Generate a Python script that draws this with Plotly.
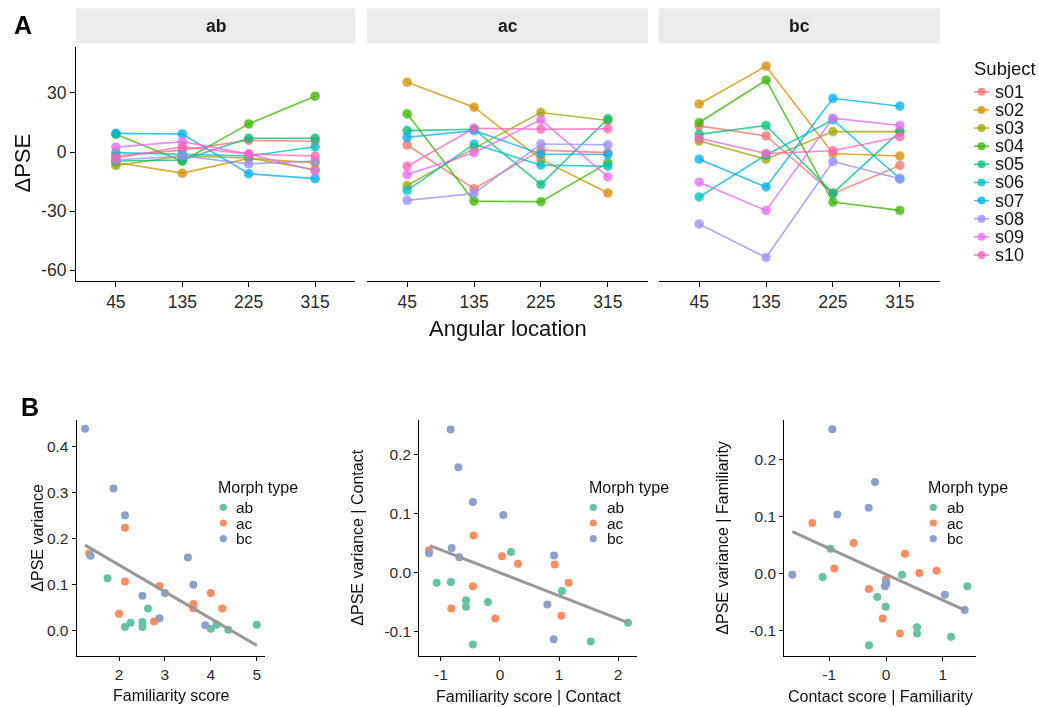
import plotly.graph_objects as go

# ---------------- data ----------------
angles = ["45", "135", "225", "315"]
subjects = ["s01", "s02", "s03", "s04", "s05", "s06", "s07", "s08", "s09", "s10"]
subject_colors = ["#F8766D", "#D89000", "#A3A500", "#39B600", "#00BF7D",
                  "#00BFC4", "#00B0F6", "#9590FF", "#E76BF3", "#FF62BC"]

# dPSE per subject at the four angular locations (45, 135, 225, 315)
dpse_ab = [
    [-2.0, 1.0, 6.0, 5.5],
    [-5.3, -10.7, -3.2, -5.5],
    [-6.8, -2.0, -3.0, -9.0],
    [9.0, -4.6, 14.3, 28.4],
    [-4.5, -4.0, 7.0, 7.0],
    [-0.3, -1.0, -2.0, 2.7],
    [9.5, 9.2, -11.0, -13.5],
    [-4.0, -2.0, -6.0, -4.5],
    [2.5, 5.3, -1.0, -9.5],
    [-3.0, 2.7, -1.0, -2.0],
]
dpse_ac = [
    [3.6, -18.6, 1.0, -0.3],
    [35.4, 22.8, -3.7, -20.8],
    [-17.0, 1.9, 20.1, 16.0],
    [19.4, -24.9, -25.2, -5.5],
    [10.9, 11.6, -16.4, 16.9],
    [-19.4, 4.0, -6.6, -7.2],
    [7.5, 10.9, -1.0, -1.2],
    [-24.5, -21.0, 4.1, 3.7],
    [-11.4, -0.3, 16.4, -12.6],
    [-7.2, 12.1, 11.6, 11.8],
]
dpse_bc = [
    [13.3, 8.2, -21.1, -6.8],
    [24.4, 43.6, -0.7, -2.0],
    [5.6, -3.6, 10.4, 10.4],
    [15.0, 36.5, -25.4, -29.6],
    [9.0, 13.5, -20.8, 10.4],
    [-22.8, -1.5, 16.4, -13.5],
    [-3.6, -17.7, 27.3, 23.3],
    [-36.5, -53.5, -4.8, -13.5],
    [-15.3, -29.6, 17.2, 13.5],
    [7.0, -0.7, 0.7, 7.8],
]
facet_names = ["ab", "ac", "bc"]
a_ytick_vals = [-60, -30, 0, 30]
a_ytick_text = ["-60", "-30", "0", "30"]

morph_types = ["ab", "ac", "bc"]
morph_colors = ["#66C2A5", "#FC8D62", "#8DA0CB"]

# B1: Familiarity score vs dPSE variance
fam_x_ab = [1.75, 2.13, 2.25, 2.51, 2.51, 2.63, 4.0, 4.13, 4.38, 5.0]
fam_y_ab = [0.113, 0.007, 0.016, 0.018, 0.007, 0.047, 0.003, 0.012, 0.001, 0.012]
fam_x_ac = [2.13, 2.13, 1.35, 2.0, 2.88, 2.76, 3.62, 3.62, 4.0, 4.25]
fam_y_ac = [0.223, 0.106, 0.167, 0.036, 0.096, 0.019, 0.057, 0.048, 0.081, 0.047]
fam_x_bc = [1.26, 1.88, 2.13, 1.38, 2.51, 3.0, 3.50, 3.62, 2.88, 3.88]
fam_y_bc = [0.438, 0.308, 0.250, 0.162, 0.075, 0.081, 0.158, 0.099, 0.026, 0.011]
fit_fam_x = [1.26, 5.0]
fit_fam_y = [0.185, -0.033]

# B2: Familiarity | Contact vs dPSE variance | Contact
fc_x_ab = [0.186, -1.073, -0.831, -0.576, -0.576, -0.203, -0.458, 1.051, 1.537, 2.169]
fc_y_ab = [0.035, -0.017, -0.016, -0.047, -0.058, -0.050, -0.122, -0.031, -0.117, -0.085]
fc_x_ac = [-0.446, -1.203, 0.034, 0.305, -0.458, -0.825, -0.079, 0.927, 1.164, 1.040]
fc_y_ac = [0.063, 0.038, 0.028, 0.015, -0.023, -0.061, -0.078, 0.014, -0.017, -0.073]
fc_x_bc = [-0.836, -0.706, -0.458, 0.056, -0.819, -0.689, -1.203, 0.915, 0.802, 0.910]
fc_y_bc = [0.243, 0.179, 0.120, 0.098, 0.042, 0.026, 0.033, 0.029, -0.054, -0.113]
fit_fc_x = [-1.186, 2.169]
fit_fc_y = [0.046, -0.085]

# B3: Contact | Familiarity vs dPSE variance | Familiarity
cf_x_ab = [-0.974, -1.114, 0.282, -0.153, -0.006, 0.545, 0.545, 1.144, -0.299, 1.431]
cf_y_ab = [0.044, -0.006, -0.002, -0.041, -0.058, -0.094, -0.105, -0.111, -0.126, -0.022]
cf_x_ac = [-1.296, -0.569, 0.334, -0.909, 0.587, 0.891, 0.0, -0.299, -0.059, 0.246]
cf_y_ac = [0.089, 0.054, 0.035, 0.009, 0.001, 0.005, -0.010, -0.027, -0.079, -0.105]
cf_x_bc = [-0.944, -0.194, -0.305, -0.856, -1.648, 0.0, -0.018, 1.038, 1.384, 0.005]
cf_y_bc = [0.254, 0.161, 0.116, 0.104, -0.002, -0.014, -0.022, -0.037, -0.064, -0.018]
fit_cf_x = [-1.648, 1.384]
fit_cf_y = [0.074, -0.064]

# tick labels for panel B (hyphen-minus as in the original)
b1_xticks = [2, 3, 4, 5]
b1_yticks = [0.0, 0.1, 0.2, 0.3, 0.4]
b1_ytext = ["0.0", "0.1", "0.2", "0.3", "0.4"]
b2_xticks = [-1, 0, 1, 2]
b2_xtext = ["-1", "0", "1", "2"]
b2_yticks = [-0.1, 0.0, 0.1, 0.2]
b2_ytext = ["-0.1", "0.0", "0.1", "0.2"]
b3_xticks = [-1, 0, 1]
b3_xtext = ["-1", "0", "1"]
b3_yticks = [-0.1, 0.0, 0.1, 0.2]
b3_ytext = ["-0.1", "0.0", "0.1", "0.2"]

# ---------------- layout helpers ----------------
W, H = 1039, 707
FONT = "Liberation Sans, Arial, Helvetica, sans-serif"
TICK_COL = "#2b2b2b"
TITLE_COL = "#111111"
ALPHA = 0.78


def fx(p):
    return p / W


def fy(p):
    return 1 - p / H


fig = go.Figure()

# ---------------- panel A ----------------
a_axes = [("x", "y"), ("x2", "y2"), ("x3", "y3")]
a_data = [dpse_ab, dpse_ac, dpse_bc]
for (xa, ya), data in zip(a_axes, a_data):
    for s, col, vals in zip(subjects, subject_colors, data):
        fig.add_trace(go.Scatter(x=angles, y=vals, mode="lines", xaxis=xa, yaxis=ya,
                                 line=dict(color=col, width=1.6), opacity=ALPHA,
                                 showlegend=False, name=s, hoverinfo="skip"))
    for s, col, vals in zip(subjects, subject_colors, data):
        fig.add_trace(go.Scatter(x=angles, y=vals, mode="markers", xaxis=xa, yaxis=ya,
                                 marker=dict(color=col, size=9.5, line=dict(width=0)),
                                 opacity=ALPHA, showlegend=False, name=s))

# ---------------- panel B ----------------
b_sets = [
    ("x4", "y4", [(fam_x_ab, fam_y_ab), (fam_x_ac, fam_y_ac), (fam_x_bc, fam_y_bc)], (fit_fam_x, fit_fam_y)),
    ("x5", "y5", [(fc_x_ab, fc_y_ab), (fc_x_ac, fc_y_ac), (fc_x_bc, fc_y_bc)], (fit_fc_x, fit_fc_y)),
    ("x6", "y6", [(cf_x_ab, cf_y_ab), (cf_x_ac, cf_y_ac), (cf_x_bc, cf_y_bc)], (fit_cf_x, fit_cf_y)),
]
for xa, ya, groups, fit in b_sets:
    for m, col, (gx, gy) in zip(morph_types, morph_colors, groups):
        fig.add_trace(go.Scatter(x=gx, y=gy, mode="markers", xaxis=xa, yaxis=ya,
                                 marker=dict(color=col, size=8, line=dict(width=0)),
                                 showlegend=False, name=m))
    fig.add_trace(go.Scatter(x=fit[0], y=fit[1], mode="lines", xaxis=xa, yaxis=ya,
                             line=dict(color="#999999", width=3), showlegend=False,
                             hoverinfo="skip"))

# ---------------- axes ----------------
axis_base = dict(showgrid=False, zeroline=False, showline=True, linecolor="black",
                 linewidth=1.2, ticks="outside", ticklen=5, tickwidth=1.2,
                 tickcolor="black", tickfont=dict(family=FONT, size=17.5, color=TICK_COL))

A_YR = [-65.2, 53.6]
a_dom_y = [fy(280.5), fy(46.5)]
a_dom_x = [[76, 355], [367, 648], [659, 940]]
layout_axes = {}
for i, (x0, x1) in enumerate(a_dom_x):
    sfx = "" if i == 0 else str(i + 1)
    layout_axes["xaxis" + sfx] = dict(axis_base, domain=[fx(x0), fx(x1)], type="category",
                                      categoryorder="array", categoryarray=angles,
                                      range=[-0.6, 3.6], anchor="y" + sfx)
    if i == 0:
        layout_axes["yaxis"] = dict(axis_base, domain=a_dom_y, range=A_YR,
                                    tickvals=a_ytick_vals, ticktext=a_ytick_text, anchor="x")
    else:
        layout_axes["yaxis" + sfx] = dict(domain=a_dom_y, range=A_YR, showgrid=False,
                                          zeroline=False, showline=False,
                                          showticklabels=False, ticks="", anchor="x" + sfx)

b_tick = dict(family=FONT, size=15.5, color=TICK_COL)
b_specs = [
    ([76.7, 265], [1.078, 5.18], b1_xticks, [str(v) for v in b1_xticks],
     [-0.056, 0.458], b1_yticks, b1_ytext),
    ([419.3, 636.7], [-1.367, 2.316], b2_xticks, b2_xtext,
     [-0.1415, 0.260], b2_yticks, b2_ytext),
    ([784.3, 975.7], [-1.789, 1.578], b3_xticks, b3_xtext,
     [-0.1447, 0.271], b3_yticks, b3_ytext),
]
for k, (dx, xr, xt, xtt, yr, yt, ytt) in enumerate(b_specs):
    n = str(k + 4)
    layout_axes["xaxis" + n] = dict(axis_base, domain=[fx(dx[0]), fx(dx[1])], range=xr,
                                    tickvals=xt, ticktext=xtt, anchor="y" + n,
                                    tickfont=b_tick, ticklen=4)
    layout_axes["yaxis" + n] = dict(axis_base, domain=[fy(656), fy(419.5)], range=yr,
                                    tickvals=yt, ticktext=ytt, anchor="x" + n,
                                    tickfont=b_tick, ticklen=4)

# ---------------- annotations & shapes ----------------
ann = []
shapes = []


def text(x, y, s, size, **kw):
    d = dict(x=fx(x), y=fy(y), xref="paper", yref="paper", text=s, showarrow=False,
             font=dict(family=FONT, size=size, color=kw.pop("color", TITLE_COL)),
             xanchor=kw.pop("xanchor", "center"), yanchor=kw.pop("yanchor", "middle"))
    d.update(kw)
    ann.append(d)


# panel labels
text(22.5, 25, "<b>A</b>", 25, color="black")
text(29.5, 406.5, "<b>B</b>", 25, color="black")

# facet strips
for name, (x0, x1) in zip(facet_names, a_dom_x):
    shapes.append(dict(type="rect", xref="paper", yref="paper", x0=fx(x0), x1=fx(x1),
                       y0=fy(43.3), y1=fy(8.3), fillcolor="#EBEBEB", line=dict(width=0),
                       layer="below"))
    text((x0 + x1) / 2, 26, "<b>%s</b>" % name, 17.5, color="#1a1a1a")

# axis titles A
text(22.5, 163, "ΔPSE", 22, textangle=-90)
text(508, 328, "Angular location", 22)

# axis titles B
text(36.7, 538, "ΔPSE variance", 16, textangle=-90)
text(171, 695, "Familiarity score", 16)
text(356.7, 538, "ΔPSE variance | Contact", 16, textangle=-90)
text(528, 696, "Familiarity score | Contact", 16)
text(721.7, 538, "ΔPSE variance | Familiarity", 16, textangle=-90)
text(880, 696, "Contact score | Familiarity", 16)

# Subject legend (A)
text(972, 68.5, "Subject", 18.5, xanchor="left")
for i, (s, col) in enumerate(zip(subjects, subject_colors)):
    yy = 91.8 + i * 18.13
    shapes.append(dict(type="line", xref="paper", yref="paper", x0=fx(974), x1=fx(989),
                       y0=fy(yy), y1=fy(yy), line=dict(color=col, width=1.6), opacity=ALPHA))
    r = 4.0
    shapes.append(dict(type="circle", xref="paper", yref="paper", x0=fx(981.5 - r),
                       x1=fx(981.5 + r), y0=fy(yy + r), y1=fy(yy - r), fillcolor=col,
                       line=dict(width=0), opacity=ALPHA))
    text(993, yy, s, 18, xanchor="left", color=TITLE_COL)

# Morph type legends (B)
for title_x, mark_x, text_x in [(216, 223.3, 234.3), (586.7, 593.3, 605), (926, 933.3, 945)]:
    text(title_x, 487, "Morph type", 16, xanchor="left")
    for j, (m, col) in enumerate(zip(morph_types, morph_colors)):
        yy = 507.3 + j * 15.7
        r = 3.6
        shapes.append(dict(type="circle", xref="paper", yref="paper", x0=fx(mark_x - r),
                           x1=fx(mark_x + r), y0=fy(yy + r), y1=fy(yy - r), fillcolor=col,
                           line=dict(width=0)))
        text(text_x, yy, m, 15.5, xanchor="left")

fig.update_layout(
    width=W, height=H, margin=dict(l=0, r=0, t=0, b=0),
    paper_bgcolor="white", plot_bgcolor="white",
    font=dict(family=FONT, color=TITLE_COL),
    showlegend=False, annotations=ann, shapes=shapes,
    **layout_axes,
)

fig.write_html("out.html", config={"displayModeBar": False},
               post_script="document.body.style.margin='0';")
